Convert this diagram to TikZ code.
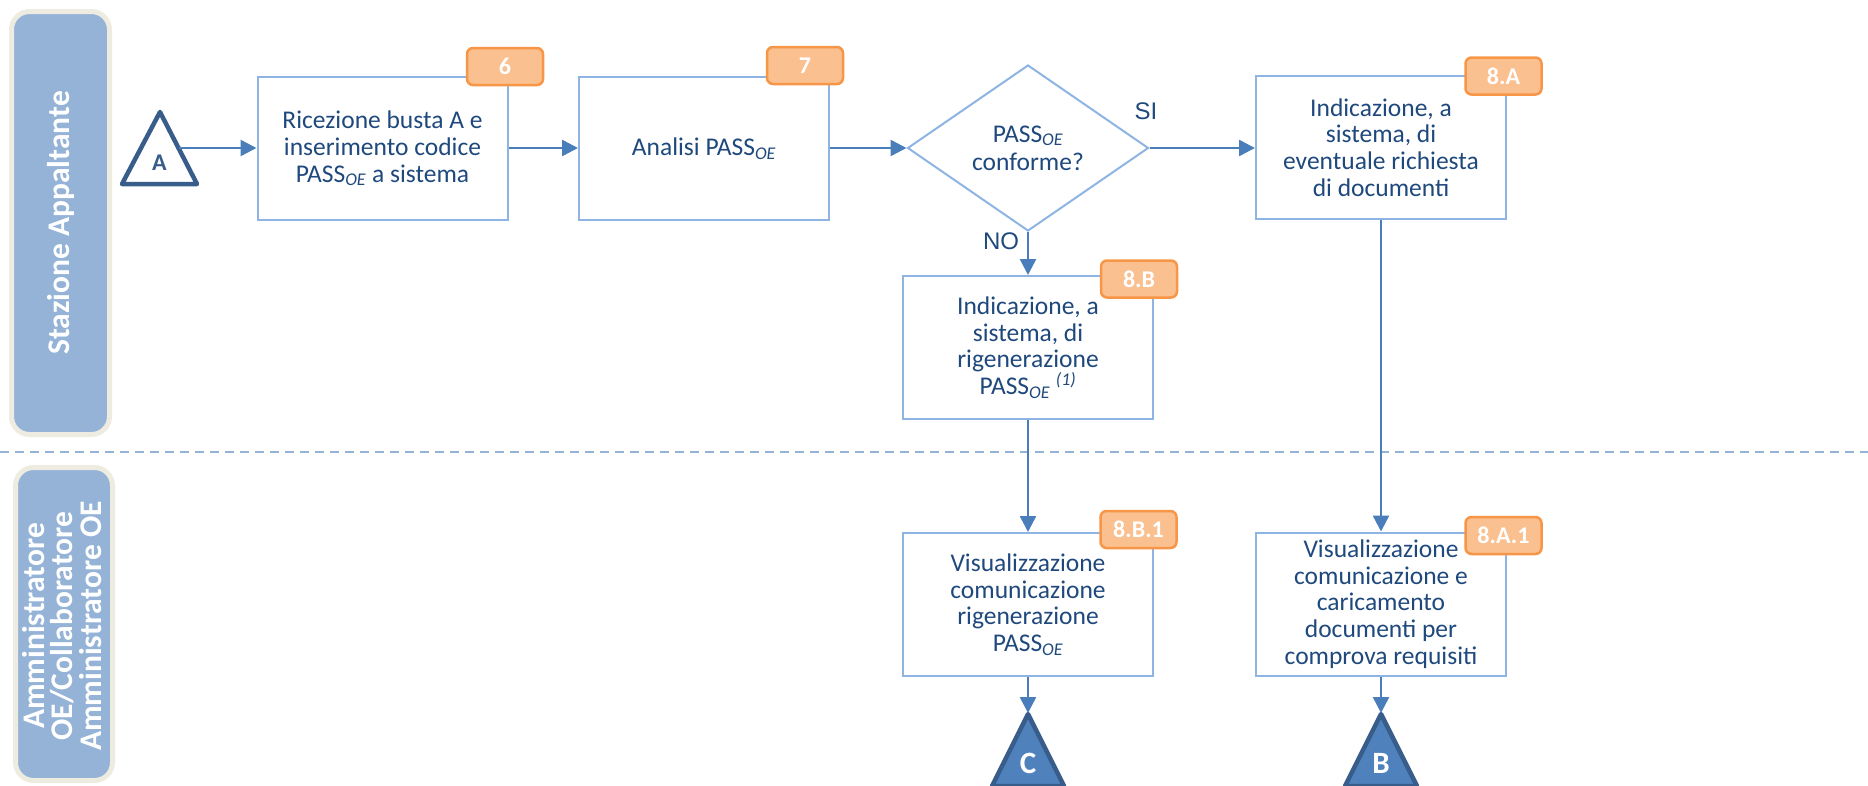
\documentclass[tikz,border=0pt]{standalone}
\usepackage{fontspec}
\setmainfont{Carlito}
\newfontfamily\arialf{Liberation Sans}
\usetikzlibrary{arrows.meta,shapes.geometric}
\definecolor{lanefill}{RGB}{149,179,215}
\definecolor{laneborder}{RGB}{238,236,225}
\definecolor{boxline}{RGB}{142,180,227}
\definecolor{txt}{RGB}{31,73,125}
\definecolor{arr}{RGB}{74,126,187}
\definecolor{badgefill}{RGB}{250,192,144}
\definecolor{badgeline}{RGB}{247,150,70}
\definecolor{tridark}{RGB}{56,93,138}
\definecolor{trifill}{RGB}{79,129,189}
\definecolor{dashc}{RGB}{149,179,215}
\newcommand\subOE{\textsubscript{\textit{OE}}}
\begin{document}
\begin{tikzpicture}[x=1pt,y=-1pt,
  lane/.style={draw=laneborder, line width=5pt, fill=lanefill, rounded corners=18pt, inner sep=0pt},
  lanetxt/.style={text=white, font=\fontsize{31.5}{28.7}\selectfont\bfseries, align=center, rotate=90, inner sep=0pt},
  stepbox/.style={draw=boxline, line width=2pt, fill=white, minimum width=250pt, minimum height=143pt, inner sep=0pt, text=txt, font=\fontsize{25.5}{26.7}\selectfont, align=center},
  decision/.style={diamond, draw=boxline, line width=2pt, fill=white, minimum width=241pt, minimum height=166pt, inner sep=0pt, text=txt, font=\fontsize{25.5}{28}\selectfont, align=center},
  badge/.style={draw=badgeline, line width=2.5pt, fill=badgefill, rounded corners=6pt, minimum width=76pt, minimum height=37pt, inner sep=0pt, text=white, font=\fontsize{24}{24}\selectfont\bfseries},
  flow/.style={draw=arr, line width=2.5pt, -{Triangle[length=16pt,width=16pt]}},
  lbl/.style={text=txt, font=\arialf\fontsize{24}{24}\selectfont, inner sep=0pt},
  conn/.style={draw=tridark, line width=4.5pt, line join=round},
  conntxt/.style={font=\fontsize{31}{31}\selectfont\bfseries, inner sep=0pt}
]
\useasboundingbox (0,0) rectangle (1868,785);

% divider
\coordinate (divL) at (0,451.5);
\coordinate (divR) at (1868,451.5);
\draw[dashc, line width=2pt, dash pattern=on 9pt off 6pt] (divL) -- (divR);

% lanes
\node[lane, minimum width=98pt, minimum height=423pt] (lane1) at (60.5,223) {};
\node[lanetxt] (lane1t) at (60.5,223) {Stazione Appaltante};
\node[lane, minimum width=97pt, minimum height=313pt] (lane2) at (64,624) {};
\node[lanetxt] (lane2t) at (62,626) {Amministratore\\OE/Collaboratore\\Amministratore OE};

% connector A
\draw[conn, fill=white] (160,112) -- (197,184) -- (122,184) -- cycle;
\node[conntxt, text=tridark, font=\fontsize{24}{24}\selectfont\bfseries] (tA) at (159.5,162.5) {A};
\coordinate (Aedge) at (178.5,148);

% boxes
\node[stepbox] (b6) at (382.5,148.5) {Ricezione busta A e\\inserimento codice\\PASS\subOE{} a sistema};
\node[stepbox] (b7) at (704,148.5) {Analisi PASS\subOE};
\node[decision] (d) at (1028,148) {PASS\subOE\\conforme?};
\node[stepbox] (b8a) at (1381,147.5) {Indicazione, a\\sistema, di\\eventuale richiesta\\di documenti};
\node[stepbox] (b8b) at (1028,347.5) {Indicazione, a\\sistema, di\\rigenerazione\\PASS\subOE{} \textsuperscript{\textit{(1)}}};
\node[stepbox] (b8b1) at (1028,604.5) {Visualizzazione\\comunicazione\\rigenerazione\\PASS\subOE};
\node[stepbox] (b8a1) at (1381,604) {Visualizzazione\\comunicazione e\\caricamento\\documenti per\\comprova requisiti};

% badges
\node[badge] (n6) at (505,66.5) {6};
\node[badge] (n7) at (805,65.5) {7};
\node[badge] (n8a) at (1503.5,76) {8.A};
\node[badge] (n8b) at (1139,279) {8.B};
\node[badge] (n8b1) at (1138.5,529.5) {8.B.1};
\node[badge] (n8a1) at (1503.5,535.5) {8.A.1};

% labels
\node[lbl] (si) at (1146,111) {SI};
\node[lbl] (no) at (1001,241) {NO};

% off-page connectors C and B
\draw[conn, fill=trifill] (1028,714) -- (1064,786) -- (992,786) -- cycle;
\node[conntxt, text=white] (tC) at (1028,763) {C};
\coordinate (Capex) at (1028,713);
\draw[conn, fill=trifill] (1381,714) -- (1417,786) -- (1345,786) -- cycle;
\node[conntxt, text=white] (tB) at (1381,763) {B};
\coordinate (Bapex) at (1381,713);

% flows
\draw[flow] (Aedge) -- (b6.west |- Aedge);
\draw[flow] (b6.east |- Aedge) -- (b7.west |- Aedge);
\draw[flow] (b7.east |- d.west) -- (d.west);
\draw[flow] (d.east) -- (d.east -| b8a.west);
\draw[flow] (d.south) -- (b8b.north);
\draw[flow] (b8b.south) -- (b8b1.north);
\draw[flow] (b8a.south) -- (b8a1.north);
\draw[flow] (b8b1.south) -- (Capex);
\draw[flow] (b8a1.south) -- (Bapex);
\end{tikzpicture}
\end{document}
